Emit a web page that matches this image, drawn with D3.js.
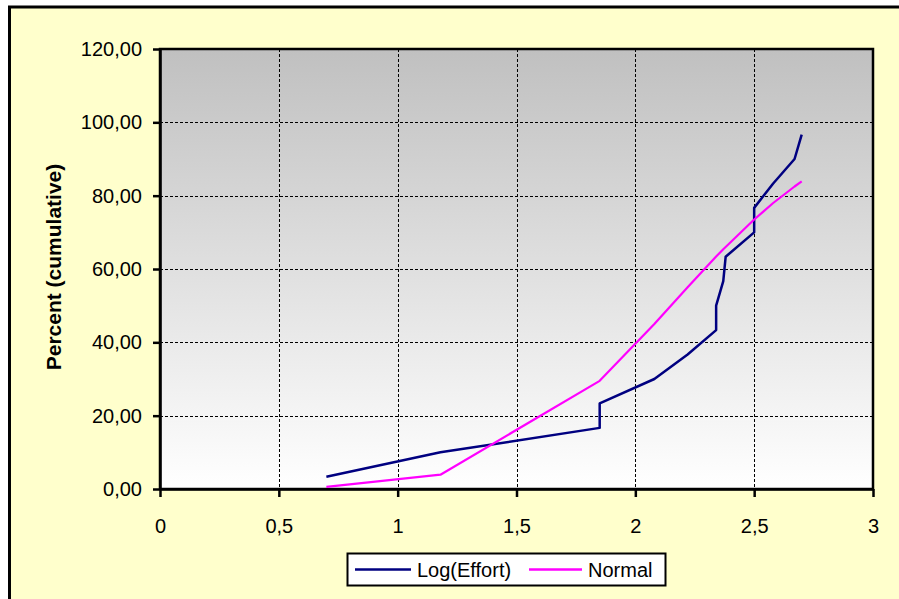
<!DOCTYPE html>
<html>
<head>
<meta charset="utf-8">
<script src="https://cdn.jsdelivr.net/npm/d3@7"></script>
<style>
  html, body { margin: 0; padding: 0; background: #ffffff; overflow: hidden; }
  svg { display: block; overflow: hidden; }
  text { font-family: "Liberation Sans", Arial, sans-serif; fill: #000; }
</style>
</head>
<body>
<svg id="chart" width="899" height="599"></svg>
<script>
// Log(Effort) observations and their cumulative percentages
const logEffort = [0.70, 1.18, 1.85, 1.85, 2.08, 2.22, 2.34, 2.34, 2.37, 2.38, 2.50, 2.50, 2.58, 2.67, 2.70];
const cumulativePct = [3.33, 10.00, 16.67, 23.33, 30.00, 36.67, 43.33, 50.00, 56.67, 63.33, 70.00, 76.67, 83.33, 90.00, 96.67];
// Fitted normal distribution, cumulative percent at the same x values
const normalPct = [0.6, 3.9, 29.5, 29.5, 45.0, 55.0, 63.4, 63.4, 65.4, 66.0, 73.5, 73.5, 78.0, 82.5, 83.9];

const xTicks = [0, 0.5, 1, 1.5, 2, 2.5, 3];
const yTicks = [0, 20, 40, 60, 80, 100, 120];
const seriesNames = ["Log(Effort)", "Normal"];
const seriesColors = ["#000080", "#FF00FF"];

const svg = d3.select("#chart");
const plot = { left: 160, top: 49, right: 873, bottom: 489 };

const locale = d3.formatLocale({ decimal: ",", thousands: ".", grouping: [3], currency: ["", ""] });
const fmtY = locale.format(".2f");
const fmtX = locale.format("~g");

const x = d3.scaleLinear().domain([0, 3]).range([plot.left, plot.right]);
const y = d3.scaleLinear().domain([0, 120]).range([plot.bottom, plot.top]);

// chart area background; its frame shows on the left and top edges
svg.append("rect").attr("x", 0).attr("y", 0).attr("width", 899).attr("height", 599).attr("fill", "#ffffff");
svg.append("rect")
  .attr("x", 9.5).attr("y", 7).attr("width", 899 - 9.5).attr("height", 599 - 7)
  .attr("fill", "#FFFFCC");
svg.append("path")
  .attr("d", "M9.5,599V7H899")
  .attr("fill", "none").attr("stroke", "#000").attr("stroke-width", 3);

// plot area gradient
const defs = svg.append("defs");
const grad = defs.append("linearGradient").attr("id", "plotBg")
  .attr("x1", 0).attr("y1", 0).attr("x2", 0).attr("y2", 1);
grad.append("stop").attr("offset", "0%").attr("stop-color", "#C0C0C0");
grad.append("stop").attr("offset", "100%").attr("stop-color", "#FFFFFF");

svg.append("rect")
  .attr("x", plot.left).attr("y", plot.top)
  .attr("width", plot.right - plot.left).attr("height", plot.bottom - plot.top)
  .attr("fill", "url(#plotBg)");

// gridlines
const grid = svg.append("g").attr("stroke", "#000").attr("stroke-width", 1).attr("stroke-dasharray", "3,2");
grid.selectAll("line.h").data(yTicks.filter(v => v > 0 && v < 120)).join("line")
  .attr("class", "h")
  .attr("x1", plot.left).attr("x2", plot.right)
  .attr("y1", d => Math.round(y(d)) + 0.5).attr("y2", d => Math.round(y(d)) + 0.5);
grid.selectAll("line.v").data(xTicks.filter(v => v > 0 && v < 3)).join("line")
  .attr("class", "v")
  .attr("y1", plot.top).attr("y2", plot.bottom)
  .attr("x1", d => Math.round(x(d)) + 0.5).attr("x2", d => Math.round(x(d)) + 0.5);

// plot area border
svg.append("rect")
  .attr("x", plot.left).attr("y", plot.top)
  .attr("width", plot.right - plot.left).attr("height", plot.bottom - plot.top)
  .attr("fill", "none").attr("stroke", "#000").attr("stroke-width", 2.5);

// axes
const xAxis = svg.append("g").attr("transform", `translate(0,${plot.bottom})`)
  .call(d3.axisBottom(x).tickValues(xTicks).tickFormat(fmtX).tickSize(8).tickSizeOuter(0).tickPadding(22));
const yAxis = svg.append("g").attr("transform", `translate(${plot.left},0)`)
  .call(d3.axisLeft(y).tickValues(yTicks).tickFormat(fmtY).tickSize(7).tickSizeOuter(0).tickPadding(11));
[xAxis, yAxis].forEach(a => {
  a.select(".domain").attr("stroke", "#000").attr("stroke-width", 2.5);
  a.selectAll(".tick line").attr("stroke", "#000").attr("stroke-width", 2.5);
  a.selectAll(".tick text").attr("font-size", 20).attr("font-family", "Liberation Sans, Arial, sans-serif").attr("fill", "#000");
});

// y axis title
svg.append("text")
  .attr("transform", `translate(61,${(plot.top + plot.bottom) / 2 - 2}) rotate(-90)`)
  .attr("text-anchor", "middle")
  .attr("font-size", 21).attr("font-weight", "bold")
  .text("Percent (cumulative)");

// series lines
const line = d3.line().x(d => x(d[0])).y(d => y(d[1]));
const series = [
  { name: seriesNames[0], color: seriesColors[0], width: 2.5, pts: logEffort.map((v, i) => [v, cumulativePct[i]]) },
  { name: seriesNames[1], color: seriesColors[1], width: 2.2, pts: logEffort.map((v, i) => [v, normalPct[i]]) }
];
svg.append("g").selectAll("path").data(series).join("path")
  .attr("d", d => line(d.pts))
  .attr("fill", "none")
  .attr("stroke", d => d.color)
  .attr("stroke-width", d => d.width)
  .attr("stroke-linejoin", "round");

// legend
const legend = svg.append("g");
legend.append("rect")
  .attr("x", 347.5).attr("y", 553.5).attr("width", 318).attr("height", 32)
  .attr("fill", "#fff").attr("stroke", "#000").attr("stroke-width", 2);
const legendItems = [
  { name: seriesNames[0], color: seriesColors[0], x0: 355, x1: 411, tx: 417 },
  { name: seriesNames[1], color: seriesColors[1], x0: 529, x1: 582, tx: 588 }
];
legendItems.forEach(it => {
  legend.append("line").attr("x1", it.x0).attr("x2", it.x1).attr("y1", 569.5).attr("y2", 569.5)
    .attr("stroke", it.color).attr("stroke-width", 2.5);
  legend.append("text").attr("x", it.tx).attr("y", 577).attr("font-size", 20).text(it.name);
});
</script>
</body>
</html>
